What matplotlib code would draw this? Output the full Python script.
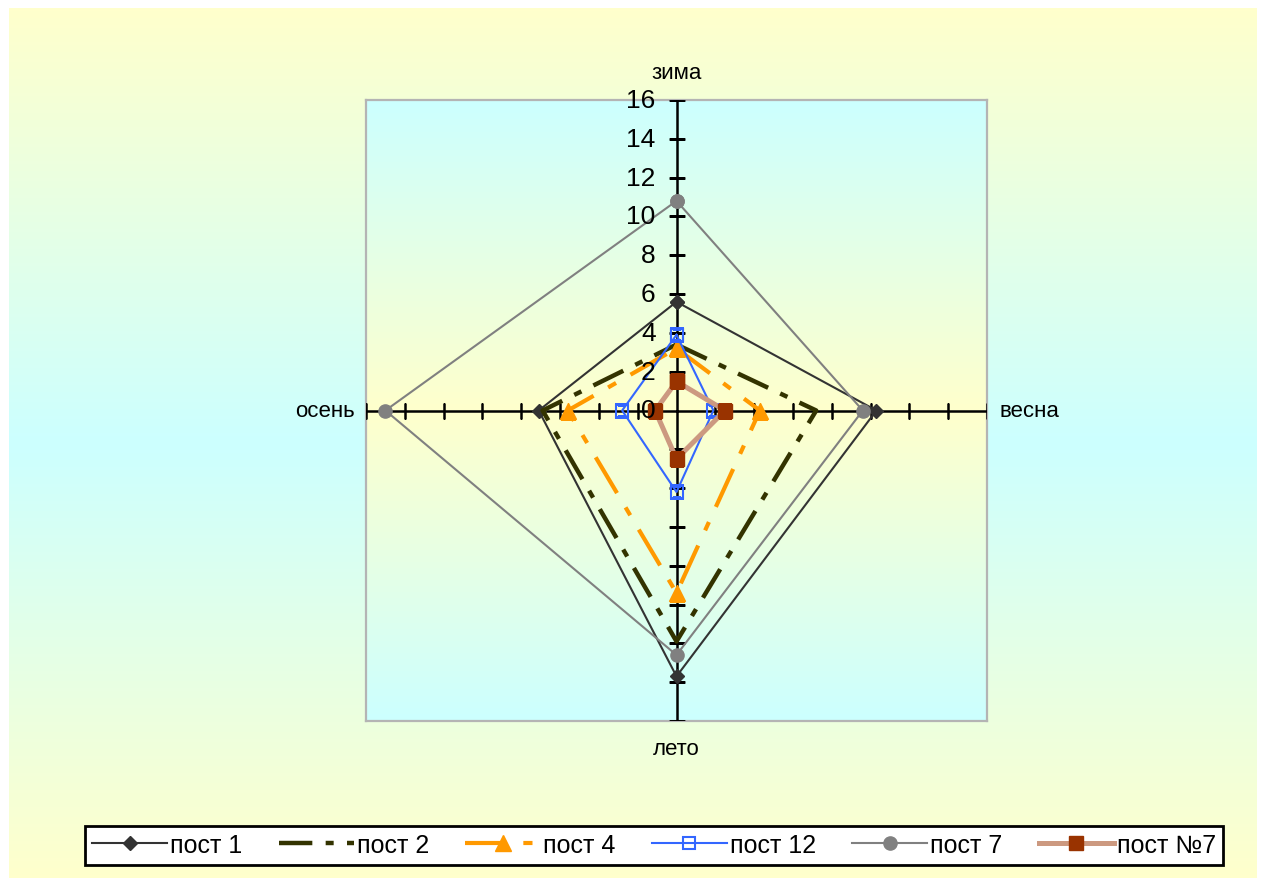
import numpy as np
import matplotlib
matplotlib.use('Agg')
import matplotlib.pyplot as plt
from matplotlib.colors import LinearSegmentedColormap

plt.rcParams['font.family'] = ['Liberation Sans', 'DejaVu Sans']

# seasons go clockwise from the top
seasons = ['зима', 'весна', 'лето', 'осень']
r_ticks = [0, 2, 4, 6, 8, 10, 12, 14, 16]

post1 = [5.6, 10.3, 13.7, 7.1]
post2 = [3.4, 7.2, 11.9, 6.9]
post4 = [3.2, 4.3, 9.4, 5.6]
post12 = [3.9, 1.9, 4.2, 2.8]
post7 = [10.8, 9.6, 12.6, 15.0]
post7n = [1.5, 2.5, 2.5, 1.1]

W, H = 1261, 879
fig = plt.figure(figsize=(W / 100, H / 100), dpi=100, facecolor='white')

# outer gradient (yellow - cyan - yellow)
bg = fig.add_axes([9 / W, 0, 1248 / W, 870 / H], zorder=0)
cm_out = LinearSegmentedColormap.from_list('out', ['#FFFFCC', '#CCFFFF', '#FFFFCC'])
bg.imshow(np.linspace(0, 1, 256)[:, None], cmap=cm_out, aspect='auto')
bg.axis('off')

# plot area gradient (cyan - yellow - cyan)
rect = [366 / W, 157 / H, 621 / W, 621 / H]
pa = fig.add_axes(rect, zorder=1)
cm_in = LinearSegmentedColormap.from_list('in', ['#CCFFFF', '#FFFFCC', '#CCFFFF'])
pa.imshow(np.linspace(0, 1, 256)[:, None], cmap=cm_in, aspect='auto')
pa.set_xticks([])
pa.set_yticks([])
for s in pa.spines.values():
    s.set_color('#B4B4B4')
    s.set_linewidth(1.6)

ax = fig.add_axes(rect, projection='polar', zorder=2)
ax.set_facecolor('none')
ax.set_theta_zero_location('N')
ax.set_theta_direction(-1)
ax.set_ylim(0, 16)
ax.grid(False)
ax.set_xticks([])
ax.set_yticks([])
ax.spines['polar'].set_visible(False)

angles = np.arange(len(seasons)) * np.pi / 2

# axis spokes with cross ticks
for i, a in enumerate(angles):
    ax.plot([a, a], [0, 16], color='black', lw=1.8, zorder=2)
    mk = '_' if i % 2 == 0 else '|'
    ax.plot([a] * (len(r_ticks) - 1), r_ticks[1:], ls='none', marker=mk,
            ms=12, mew=1.8, color='black', zorder=2)

for r in r_ticks:
    ax.annotate(str(r), xy=(0, r), xytext=(-15, 0), textcoords='offset points',
                ha='right', va='center', fontsize=19, zorder=5)

offs = [(0, 20, 'center', 'center'), (9, 0, 'left', 'center'),
        (0, -20, 'center', 'center'), (-8, 0, 'right', 'center')]
for a, name, (dx, dy, ha, va) in zip(angles, seasons, offs):
    ax.annotate(name, xy=(a, 16), xytext=(dx, dy), textcoords='offset points',
                ha=ha, va=va, fontsize=16)

th = np.append(angles, angles[0])


def closed(v):
    return v + v[:1]


ax.plot(th, closed(post1), color='#333333', lw=1.5, marker='D', ms=7.5,
        label='пост 1', zorder=4)
ax.plot(th, closed(post2), color='#333300', lw=3.2, dashes=(7.5, 3.0, 1.8, 3.0),
        label='пост 2', zorder=4)
ax.plot(th, closed(post4), color='#FF9900', lw=3.0, dashes=(10, 4, 2.2, 4),
        marker='^', ms=12, label='пост 4', zorder=4)
ax.plot(th, closed(post12), color='#3366FF', lw=1.5, marker='s', ms=8.5,
        mfc='none', mec='#3366FF', mew=1.5, label='пост 12', zorder=4)
ax.plot(th, closed(post7), color='#808080', lw=1.5, marker='o', ms=9.5,
        label='пост 7', zorder=4)
ax.plot(th, closed(post7n), color='#CC9980', lw=3.6, marker='s', ms=10,
        mfc='#993300', mec='#993300', label='пост №7', zorder=4)

leg = fig.legend(*ax.get_legend_handles_labels(), loc='center',
                 bbox_to_anchor=(654 / W, 33 / H), ncol=6, fontsize=18,
                 frameon=True, fancybox=False, framealpha=1, edgecolor='black',
                 handlelength=3.0, handletextpad=0.12, columnspacing=1.45,
                 borderpad=0.3, numpoints=1)
leg.get_frame().set_linewidth(2)

fig.savefig('out.png', dpi=100, facecolor='white')
